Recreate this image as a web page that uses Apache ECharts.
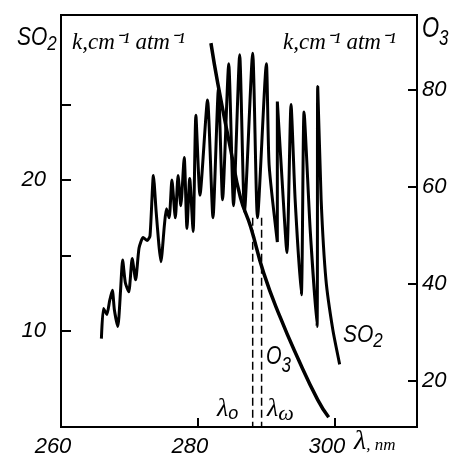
<!DOCTYPE html>
<html>
<head>
<meta charset="utf-8">
<script src="https://cdn.jsdelivr.net/npm/echarts@6/dist/echarts.min.js"></script>
<style>
  html, body { margin: 0; padding: 0; background: #fff; }
  #chart { width: 451px; height: 459px; }
</style>
</head>
<body>
<div id="chart"></div>
<script>
  // SO2 absorption trace (wavelength nm, k cm-1 atm-1)
  const so2Wl = [265.9, 266.2, 266.7, 267.1, 267.5, 267.8, 268.3, 268.7, 269.0, 269.4,
    269.9, 270.4, 270.9, 271.4, 272.0, 272.6, 273.0, 273.5, 273.9, 274.3,
    274.6, 275.1, 275.4, 275.8, 276.2, 276.7, 277.1, 277.5, 278.0, 278.4,
    278.8, 279.3, 279.7, 280.3, 281.4, 282.2, 283.0, 283.6, 284.5, 285.2,
    286.1, 286.8, 288.0, 288.7, 290.0, 290.4, 291.6, 291.6, 292.2, 293.0,
    293.6, 294.2, 295.1, 295.5, 296.4, 297.4, 297.5, 298.0, 298.7, 299.7, 300.7];
  const so2K = [9.5, 11.5, 11.1, 12.0, 12.7, 11.4, 10.3, 12.7, 14.7, 13.2,
    12.6, 14.8, 13.4, 15.5, 16.2, 16.0, 16.3, 20.3, 17.9, 15.7,
    14.6, 17.0, 18.1, 17.5, 20.0, 17.5, 20.3, 18.3, 21.5, 16.8,
    20.1, 16.6, 24.3, 19.0, 25.3, 17.5, 26.1, 18.7, 27.7, 18.3,
    28.3, 17.9, 28.4, 17.5, 27.7, 21.0, 15.9, 25.2, 20.7, 15.2,
    25.0, 18.7, 12.4, 24.5, 16.7, 10.3, 26.2, 18.7, 13.4, 10.1, 7.8];

  // O3 absorption curve
  const o3Wl = [281.9, 282.9, 284.8, 286.2, 287.7, 289.6, 292.0, 294.5, 297.5, 299.1];
  const o3K = [89.7, 81.4, 67.6, 57.9, 51.8, 42.3, 33.2, 25.0, 16.1, 12.5];

  // marked wavelengths (dashed lines)
  const lambda0 = 288.0;
  const lambdaW = 289.3;
  const dashTop = 17.5;

  const xTicks = [280, 300];
  const xLabels = [260, 280, 300];
  const so2Ticks = [10, 15, 20, 25];
  const so2Labels = [10, 20];
  const o3Ticks = [20, 40, 60, 80];

  const so2Min = 3.65, so2Max = 30.93;
  const o3Min = 10.5, o3Max = 95.5;

  const numFont = {
    color: '#000',
    fontFamily: 'Liberation Sans',
    fontStyle: 'italic',
    fontSize: 22
  };
  const sans = 'Liberation Sans';
  const serif = 'Liberation Serif';

  // chemical formula label, e.g. SO + subscript 2 (plotter lettering is tall, so stretched a bit)
  const formula = (left, top, main, sub, size, subSize, drop, sy) => ({
    type: 'text', left: left, top: top,
    scaleY: sy || 1,
    style: {
      text: '{a|' + main + '}{b|' + sub + '}',
      rich: {
        a: { fontSize: size, fontFamily: sans, fontStyle: 'italic', fill: '#000' },
        b: { fontSize: subSize, fontFamily: sans, fontStyle: 'italic', fill: '#000', padding: [drop, 0, 0, 0] }
      }
    }
  });

  const myChart = echarts.init(document.getElementById('chart'), null, { renderer: 'canvas' });

  const option = {
    animation: false,
    backgroundColor: '#fff',
    grid: {
      left: 61, top: 15, right: 34, bottom: 32,
      show: true, borderColor: '#000', borderWidth: 2
    },
    xAxis: {
      type: 'value',
      min: 260, max: 312,
      axisLine: { lineStyle: { color: '#000', width: 2 } },
      axisTick: { inside: true, length: 9, customValues: xTicks, lineStyle: { color: '#000', width: 2 } },
      axisLabel: { ...numFont, margin: 9, padding: [0, 16, 0, 0], customValues: xLabels },
      splitLine: { show: false }
    },
    yAxis: [
      {
        type: 'value',
        position: 'left',
        min: so2Min, max: so2Max,
        axisLine: { show: true, lineStyle: { color: '#000', width: 2 } },
        axisTick: { show: true, inside: true, length: 10, customValues: so2Ticks, lineStyle: { color: '#000', width: 2 } },
        axisLabel: { ...numFont, margin: 15, customValues: so2Labels },
        splitLine: { show: false }
      },
      {
        type: 'value',
        position: 'right',
        min: o3Min, max: o3Max,
        axisLine: { show: true, lineStyle: { color: '#000', width: 2 } },
        axisTick: { show: true, inside: true, length: 9, customValues: o3Ticks, lineStyle: { color: '#000', width: 2 } },
        axisLabel: { ...numFont, margin: 5, customValues: o3Ticks },
        splitLine: { show: false }
      }
    ],
    series: [
      {
        name: 'SO2',
        type: 'line',
        yAxisIndex: 0,
        data: so2Wl.map((w, i) => [w, so2K[i]]),
        showSymbol: false,
        symbol: 'none',
        smooth: 0.2,
        lineStyle: { color: '#000', width: 3 }
      },
      {
        name: 'O3',
        type: 'line',
        yAxisIndex: 1,
        data: o3Wl.map((w, i) => [w, o3K[i]]),
        showSymbol: false,
        symbol: 'none',
        smooth: true,
        lineStyle: { color: '#000', width: 3.5 }
      },
      {
        name: 'lambda0',
        type: 'line',
        yAxisIndex: 0,
        data: [[lambda0, dashTop], [lambda0, so2Min]],
        showSymbol: false,
        symbol: 'none',
        lineStyle: { color: '#000', width: 1.5, type: [8, 4] }
      },
      {
        name: 'lambdaW',
        type: 'line',
        yAxisIndex: 0,
        data: [[lambdaW, dashTop], [lambdaW, so2Min]],
        showSymbol: false,
        symbol: 'none',
        lineStyle: { color: '#000', width: 1.5, type: [8, 4] }
      }
    ],
    graphic: [
      formula(17, 25, 'SO', '2', 21, 17, 12, 1.2),
      formula(422, 15, 'O', '3', 22, 17, 14, 1.3),
      {
        type: 'text', left: 72, top: 31,
        style: { text: 'k,cm\u207B\u00B9 atm\u207B\u00B9', fontSize: 23, fontFamily: serif, fontStyle: 'italic', fill: '#000' }
      },
      {
        type: 'text', left: 283, top: 31,
        style: { text: 'k,cm\u207B\u00B9 atm\u207B\u00B9', fontSize: 23, fontFamily: serif, fontStyle: 'italic', fill: '#000' }
      },
      {
        type: 'text', left: 354, top: 428,
        style: {
          text: '{a|\u03BB}{b|, nm}',
          rich: {
            a: { fontSize: 28, fontFamily: serif, fontStyle: 'italic', fill: '#000' },
            b: { fontSize: 17, fontFamily: serif, fontStyle: 'italic', fill: '#000', padding: [8, 0, 0, 0] }
          }
        }
      },
      {
        type: 'text', left: 217, top: 396,
        style: {
          text: '{a|\u03BB}{b|o}',
          rich: {
            a: { fontSize: 26, fontFamily: serif, fontStyle: 'italic', fill: '#000' },
            b: { fontSize: 18, fontFamily: sans, fontStyle: 'italic', fill: '#000', padding: [10, 0, 0, 0] }
          }
        }
      },
      {
        type: 'text', left: 267, top: 396,
        style: {
          text: '{a|\u03BB}{b|\u03C9}',
          rich: {
            a: { fontSize: 26, fontFamily: serif, fontStyle: 'italic', fill: '#000' },
            b: { fontSize: 22, fontFamily: serif, fontStyle: 'italic', fill: '#000', padding: [10, 0, 0, 0] }
          }
        }
      },
      formula(266, 345, 'O', '3', 20, 17, 14, 1.25),
      formula(343, 323, 'SO', '2', 21, 17, 12, 1.15)
    ]
  };

  myChart.setOption(option);
</script>
</body>
</html>
